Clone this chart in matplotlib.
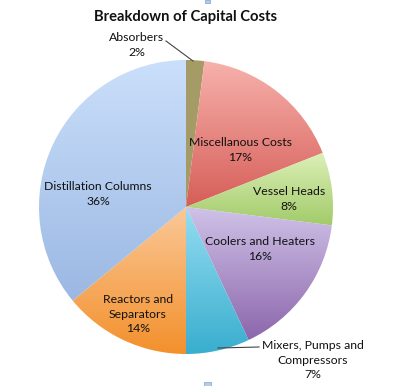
import matplotlib
matplotlib.use("Agg")
import matplotlib.pyplot as plt
import numpy as np
from matplotlib.colors import LinearSegmentedColormap
from matplotlib.patches import Rectangle

# ---- data ----
categories = ["Absorbers", "Miscellanous Costs", "Vessel Heads", "Coolers and Heaters",
              "Mixers, Pumps and\nCompressors", "Reactors and\nSeparators", "Distillation Columns"]
values = [2, 17, 8, 16, 7, 14, 36]
title = "Breakdown of Capital Costs"

# ---- styles ----
top_colors = ["#A59B66", "#F7B1AC", "#DDF0B8", "#D0C3E8", "#95DDF1", "#FAC898", "#CADFFA"]
bot_colors = ["#A59B66", "#D65E58", "#A2CB6A", "#8C66AC", "#39AECE", "#F3902C", "#9BB8E3"]

W, H = 405, 386
cx, cy, R = 186, 207, 147

def to_data(px, py):
    return ((px - cx) / R, (cy - py) / R)

fig = plt.figure(figsize=(W / 100, H / 100), dpi=100)
fig.patch.set_facecolor("white")
ax = fig.add_axes([(cx - R) / W, (H - cy - R) / H, 2 * R / W, 2 * R / H])
ax.axis("off")

wedges, _ = ax.pie(values, startangle=90, counterclock=False, radius=1,
                   center=(0, 0), frame=False)
ax.set_aspect("auto")

grad = np.linspace(0, 1, 256).reshape(-1, 1)
for w, tc, bc in zip(wedges, top_colors, bot_colors):
    w.set_facecolor("none")
    w.set_edgecolor("none")
    ext = w.get_path().get_extents()
    cmap = LinearSegmentedColormap.from_list("g", [tc, bc])
    im = ax.imshow(grad, cmap=cmap, extent=[ext.x0, ext.x1, ext.y0, ext.y1],
                   origin="upper", aspect="auto", zorder=1, interpolation="bilinear")
    im.set_clip_path(w)
ax.set_xlim(-1, 1)
ax.set_ylim(-1, 1)

font = "Lato"
fs = 8.8
label_px = [(137, 45), (240, 150), (289, 199), (260, 249), (313, 360), (138, 314), (98, 194)]
for cat, v, (px, py) in zip(categories, values, label_px):
    x, y = to_data(px, py)
    ax.text(x, y, f"{cat}\n{v}%", ha="center", va="center", fontsize=fs,
            family=font, color="#111111", linespacing=1.42, clip_on=False, zorder=5)

# leader lines
for (x0, y0), (x1, y1) in [((166, 41), (193, 61)), ((218, 348), (259, 347))]:
    a, b = to_data(x0, y0)
    c, d = to_data(x1, y1)
    ax.plot([a, c], [b, d], color="#444444", lw=0.8, clip_on=False, zorder=5)

fig.text(186 / W, 1 - 17 / H, title, ha="center", va="center", fontsize=10.6,
         fontweight="bold", family=font, color="#111111")

# small selection handles
fig.patches.append(Rectangle((205 / W, 1 - 3 / H), 5 / W, 3 / H, transform=fig.transFigure,
                             facecolor="#B8CCE8", edgecolor="#7F9CC8", lw=0.5))
fig.patches.append(Rectangle((204 / W, 0), 7 / W, 4 / H, transform=fig.transFigure,
                             facecolor="#B8CCE8", edgecolor="#7F9CC8", lw=0.5))

fig.savefig("out.png", dpi=100, facecolor="white")
